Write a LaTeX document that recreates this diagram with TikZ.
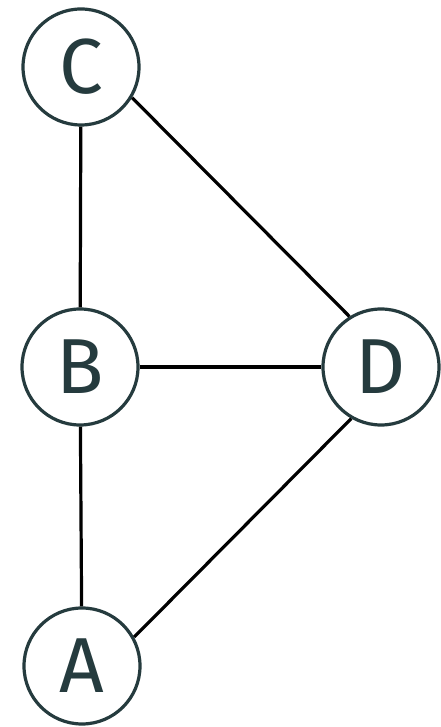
\documentclass[tikz,border=0pt]{standalone}
\usepackage{fontspec}
\setmainfont{Fira Sans}
\definecolor{nodecol}{HTML}{253B3E}
\begin{document}
\begin{tikzpicture}[x=1pt,y=1pt,
  vertex/.style={circle,draw=nodecol,line width=3.2pt,fill=white,minimum size=116pt,inner sep=0pt,text=nodecol,font=\fontsize{78}{80}\selectfont},
  edge/.style={draw=black,line width=3.2pt}]
\useasboundingbox (0,0) rectangle (441,727);
\node[vertex] (C) at (81,660) {C};
\node[vertex] (B) at (80,360) {B};
\node[vertex] (D) at (381,360) {D};
\node[vertex] (A) at (82,61) {A};
\draw[edge] (C) -- (B);
\draw[edge] (C.-31) -- (D.122);
\draw[edge] (B) -- (D);
\draw[edge] (B) -- (A);
\draw[edge] (A.29) -- (D.-120);
\end{tikzpicture}
\end{document}
